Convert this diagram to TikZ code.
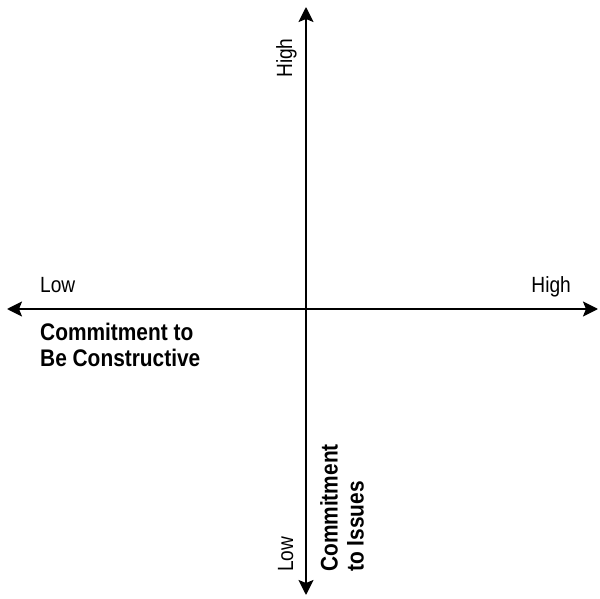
\documentclass[tikz,border=0pt]{standalone}
\usepackage{fontspec}
\setmainfont[FakeStretch=0.87]{Liberation Sans}
\usepackage{tikz}
\usetikzlibrary{arrows.meta,positioning}

\begin{document}
\begin{tikzpicture}[x=1pt,y=1pt,
    axis/.style={line width=2pt,{Stealth[length=15pt,width=15pt,inset=3pt]}-{Stealth[length=15pt,width=15pt,inset=3pt]}},
    lbl/.style={inner sep=0pt,font=\fontsize{22}{24}\selectfont},
    title/.style={inner sep=0pt,align=left,font=\fontsize{24}{26}\selectfont\bfseries},
    >=Stealth
  ]
    \useasboundingbox (0,0) rectangle (600,598);
    \coordinate (west) at (7,289);
    \coordinate (east) at (598,289);
    \coordinate (north) at (306,591);
    \coordinate (south) at (306,3);

    \node[lbl,anchor=base west] (lowx) at (40,305) {Low};
    \node[lbl,anchor=base east] (highx) at (571,305) {High};
    \node[title,anchor=north west] (xname) at (40,275) {Commitment to\\Be Constructive};
    \node[lbl,rotate=90,anchor=base west] (highy) at (292,520) {High};
    \node[lbl,rotate=90,anchor=base west] (lowy) at (293,26) {Low};
    \node[title,rotate=90,anchor=north west] (yname) at (320,26) {Commitment\\to Issues};

    \draw[axis] (west) -- (east);
    \draw[axis] (south) -- (north);
  \end{tikzpicture}
\end{document}
